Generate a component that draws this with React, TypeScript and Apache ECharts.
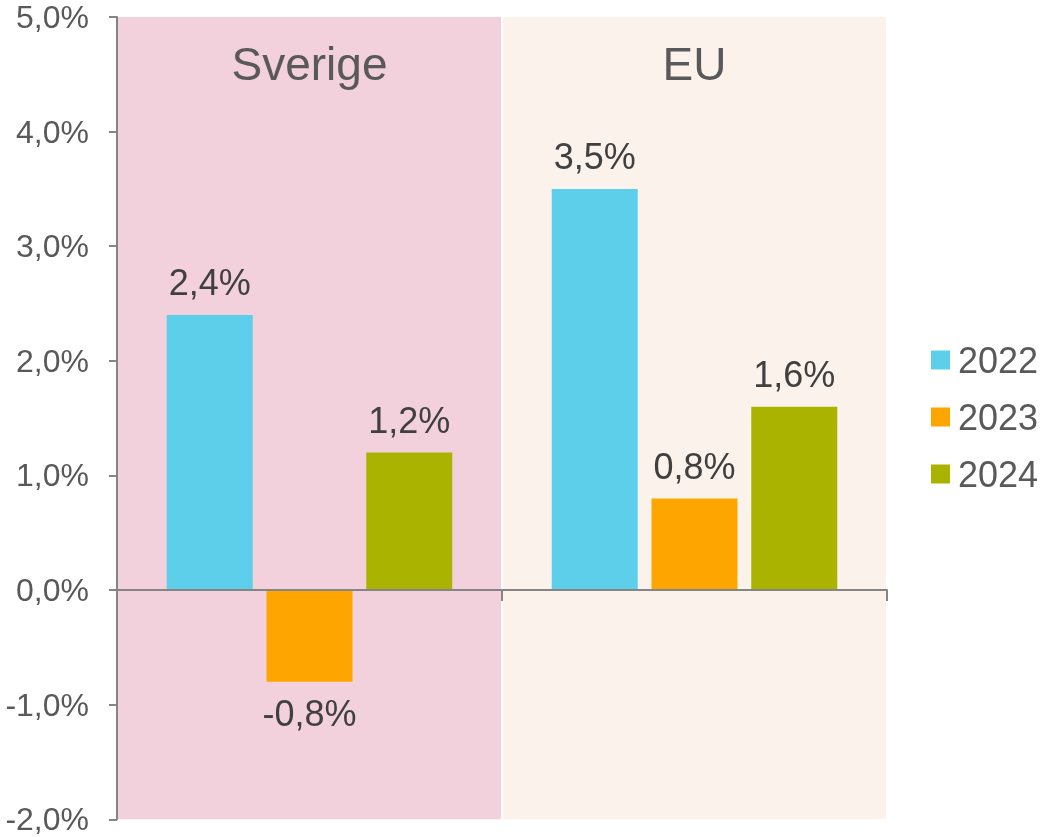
import React, { useEffect, useRef } from "react";
import * as echarts from "echarts";

const categories = ["Sverige", "EU"];
const years = ["2022", "2023", "2024"];
const values2022 = [2.4, 3.5];
const values2023 = [-0.8, 0.8];
const values2024 = [1.2, 1.6];
const yTicks = { min: -2, max: 5, interval: 1 };
const panelValues = [1, 1];

const barColors = ["#5DCFEA", "#FFA500", "#AAB400"];
const panelColors = ["#F2D1DC", "#FBF2EC"];

const fmt = (v: number) => v.toFixed(1).replace(".", ",") + "%";
const FONT = "'Liberation Sans', Arial, sans-serif";

export default function App() {
  const ref = useRef<HTMLDivElement>(null);
  useEffect(() => {
    if (!ref.current) return;
    const chart = echarts.init(ref.current, undefined, { renderer: "svg" });
    const seriesValues = [values2022, values2023, values2024];
    chart.setOption({
      animation: false,
      textStyle: { fontFamily: FONT },
      grid: { left: 117, right: 156, top: 16, bottom: 17.7 },
      legend: {
        data: years,
        orient: "vertical",
        left: 926,
        top: 337,
        itemWidth: 19,
        itemHeight: 19,
        itemGap: 21,
        icon: "rect",
        textStyle: {
          fontSize: 36,
          color: "#595959",
          fontFamily: FONT,
          padding: [0, 0, 0, 3],
        },
      },
      xAxis: [
        {
          type: "category",
          data: categories,
          position: "bottom",
          axisLine: { onZero: true, lineStyle: { color: "#858585", width: 2 } },
          axisTick: { show: true, length: 11, lineStyle: { color: "#858585", width: 2 } },
          axisLabel: { show: false },
          z: 10,
        },
        {
          type: "category",
          data: categories,
          show: false,
        },
      ],
      yAxis: [
        {
          type: "value",
          min: yTicks.min,
          max: yTicks.max,
          interval: yTicks.interval,
          axisLine: { show: true, lineStyle: { color: "#858585", width: 2 } },
          axisTick: { show: true, length: 8, lineStyle: { color: "#858585", width: 2 } },
          splitLine: { show: false },
          axisLabel: {
            formatter: (v: number) => fmt(v),
            fontSize: 32,
            lineHeight: 28,
            padding: [6, 0, 0, 0],
            color: "#595959",
            margin: 28,
            fontFamily: FONT,
          },
          z: 10,
        },
        {
          type: "value",
          min: 0,
          max: 1,
          show: false,
        },
      ],
      series: [
        {
          type: "bar",
          name: "panel",
          xAxisIndex: 1,
          yAxisIndex: 1,
          barWidth: "99.5%",
          silent: true,
          z: 0,
          data: panelValues.map((v, i) => ({
            value: v,
            itemStyle: { color: panelColors[i] },
          })),
          label: {
            show: true,
            position: "insideTop",
            distance: 24,
            formatter: (p: any) => p.name,
            fontSize: 46,
            color: "#595959",
            fontFamily: FONT,
          },
        },
        ...years.map((y, si) => ({
          type: "bar",
          name: y,
          barWidth: 86,
          barGap: "16%",
          z: 5,
          itemStyle: { color: barColors[si] },
          data: seriesValues[si].map((v) => ({
            value: v,
            label: { position: v < 0 ? "bottom" : "top" },
          })),
          label: {
            show: true,
            distance: 14,
            formatter: (p: any) => fmt(p.value),
            fontSize: 36,
            color: "#404040",
            fontFamily: FONT,
          },
        })),
      ],
    });
    return () => chart.dispose();
  }, []);
  return (
    <div
      ref={ref}
      style={{ position: "fixed", left: 0, top: 0, width: 1043, height: 837 }}
    />
  );
}
